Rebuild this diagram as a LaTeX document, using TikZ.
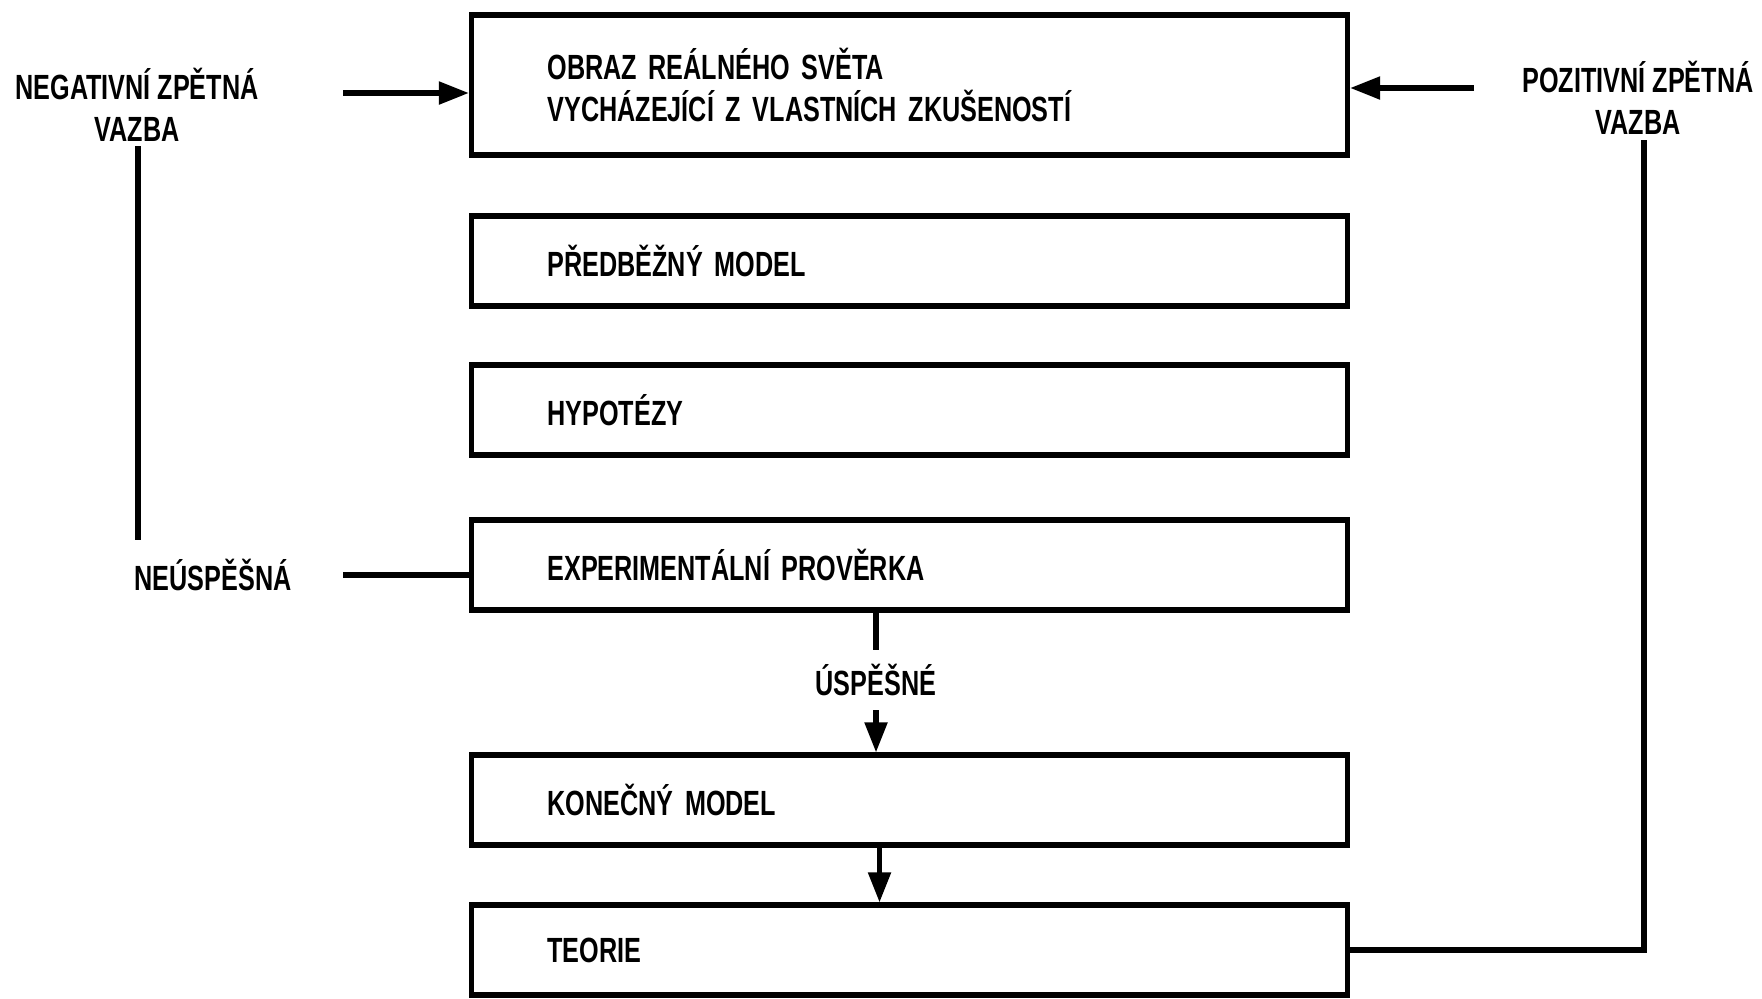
\documentclass[tikz,border=0pt]{standalone}
\usepackage{fontspec}
\setmainfont{Liberation Sans}[FakeStretch=0.72]
\usepackage{tikz}
\usetikzlibrary{arrows.meta,positioning,calc}

\tikzset{
  box/.style={draw, line width=2.6pt, rectangle, inner xsep=38pt, inner ysep=0pt,
    text width=362pt, align=left, minimum height=45pt},
  lbl/.style={align=center, inner sep=1pt},
  conn/.style={line width=2.6pt},
}

\begin{document}
\begin{tikzpicture}[x = .5pt, y = -.5pt, >={Triangle[length=15pt,width=11pt]},
  font=\fontsize{17.5}{21}\selectfont\bfseries]
\useasboundingbox (0,0) rectangle (1762,998);

\node[box, minimum height=70pt] (obraz) at (909.5,85) {OBRAZ REÁLNÉHO SVĚTA\\VYCHÁZEJÍCÍ Z VLASTNÍCH ZKUŠENOSTÍ};
\node[box] (pred) at (909.5,261) {PŘEDBĚŽNÝ MODEL};
\node[box] (hyp) at (909.5,410) {HYPOTÉZY};
\node[box] (exp) at (909.5,565) {EXPERIMENTÁLNÍ PROVĚRKA};
\node[box] (kon) at (909.5,800) {KONEČNÝ MODEL};
\node[box] (teo) at (909.5,950) {TEORIE};

\node[lbl] (neg) at (137,105) {NEGATIVNÍ ZPĚTNÁ\\VAZBA};
\node[lbl] (poz) at (1638,98) {POZITIVNÍ ZPĚTNÁ\\VAZBA};
\node[lbl] (neusp) at (213,575) {NEÚSPĚŠNÁ};
\node[lbl, inner xsep=2pt, inner ysep=7pt] (usp) at (876,680) {ÚSPĚŠNÉ};

\coordinate (negin) at (343,93);
\coordinate (negtop) at (138,146);
\coordinate (negbot) at (138,540);
\coordinate (neuout) at (343,575);
\coordinate (pozin) at (1474,88);
\coordinate (poztop) at (1644,140);

\draw[->, conn] (negin) -- (negin -| obraz.west);
\draw[conn] (negtop) -- (negbot);
\draw[conn] (neuout) -- (neuout -| exp.west);
\draw[->, conn] (pozin) -- (pozin -| obraz.east);
\draw[conn] (teo.east) -| (poztop);
\draw[conn] (usp.north |- exp.south) -- (usp.north);
\draw[->, conn] (usp.south) -- (usp.south |- kon.north);
\draw[->, conn] ($(kon.south)+(-30,0)$) -- ($(teo.north)+(-30,0)$);

\end{tikzpicture}
\end{document}
